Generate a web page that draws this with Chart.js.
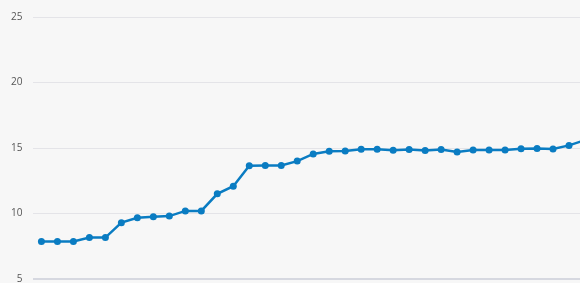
<!DOCTYPE html>
<html>
<head>
<meta charset="utf-8">
<script src="https://cdn.jsdelivr.net/npm/chart.js@4"></script>
<style>
  html, body { margin: 0; padding: 0; background: #f7f7f7; overflow: hidden; }
  #wrap { width: 597px; height: 300px; }
</style>
</head>
<body>
<div id="wrap"><canvas id="chart-main" width="597" height="300"></canvas></div>
<script>
// Valeurs (la dernière est coupée au bord droit)
const labels = [
  '1', '2', '3', '4', '5', '6', '7', '8', '9', '10',
  '11', '12', '13', '14', '15', '16', '17', '18', '19', '20',
  '21', '22', '23', '24', '25', '26', '27', '28', '29', '30',
  '31', '32', '33', '34', '35'
];
const values = [
  7.86, 7.86, 7.86, 8.16, 8.16, 9.3, 9.68, 9.75, 9.8, 10.2,
  10.2, 11.5, 12.08, 13.64, 13.66, 13.66, 14.0, 14.55, 14.75, 14.77,
  14.9, 14.9, 14.83, 14.88, 14.8, 14.88, 14.7, 14.85, 14.85, 14.85,
  14.95, 14.96, 14.93, 15.2, 15.6
];
const yTicks = [5, 10, 15, 20, 25];

const LINE_COLOR = '#0a7cc2';

const ctx = document.getElementById('chart-main').getContext('2d');
new Chart(ctx, {
  type: 'line',
  data: {
    labels: labels,
    datasets: [{
      data: values,
      borderColor: LINE_COLOR,
      backgroundColor: LINE_COLOR,
      borderWidth: 2.5,
      pointRadius: 3.5,
      pointBorderWidth: 0,
      pointBackgroundColor: LINE_COLOR,
      tension: 0
    }]
  },
  options: {
    responsive: false,
    animation: false,
    layout: {
      padding: { left: 0, top: 12, bottom: 21, right: 0 }
    },
    scales: {
      x: {
        display: false,
        offset: true
      },
      y: {
        min: 5,
        max: 25,
        afterBuildTicks: (axis) => {
          axis.ticks = yTicks.map(v => ({ value: v }));
        },
        border: { display: false },
        grid: {
          drawTicks: false,
          color: (c) => c.tick && c.tick.value === 5 ? '#d6d8e0' : '#e4e4e8',
          lineWidth: (c) => c.tick && c.tick.value === 5 ? 2 : 1
        },
        ticks: {
          padding: 11,
          color: '#555',
          font: { family: 'Open Sans', size: 10 }
        }
      }
    },
    plugins: {
      legend: { display: false },
      tooltip: { enabled: false }
    }
  }
});
</script>
</body>
</html>
